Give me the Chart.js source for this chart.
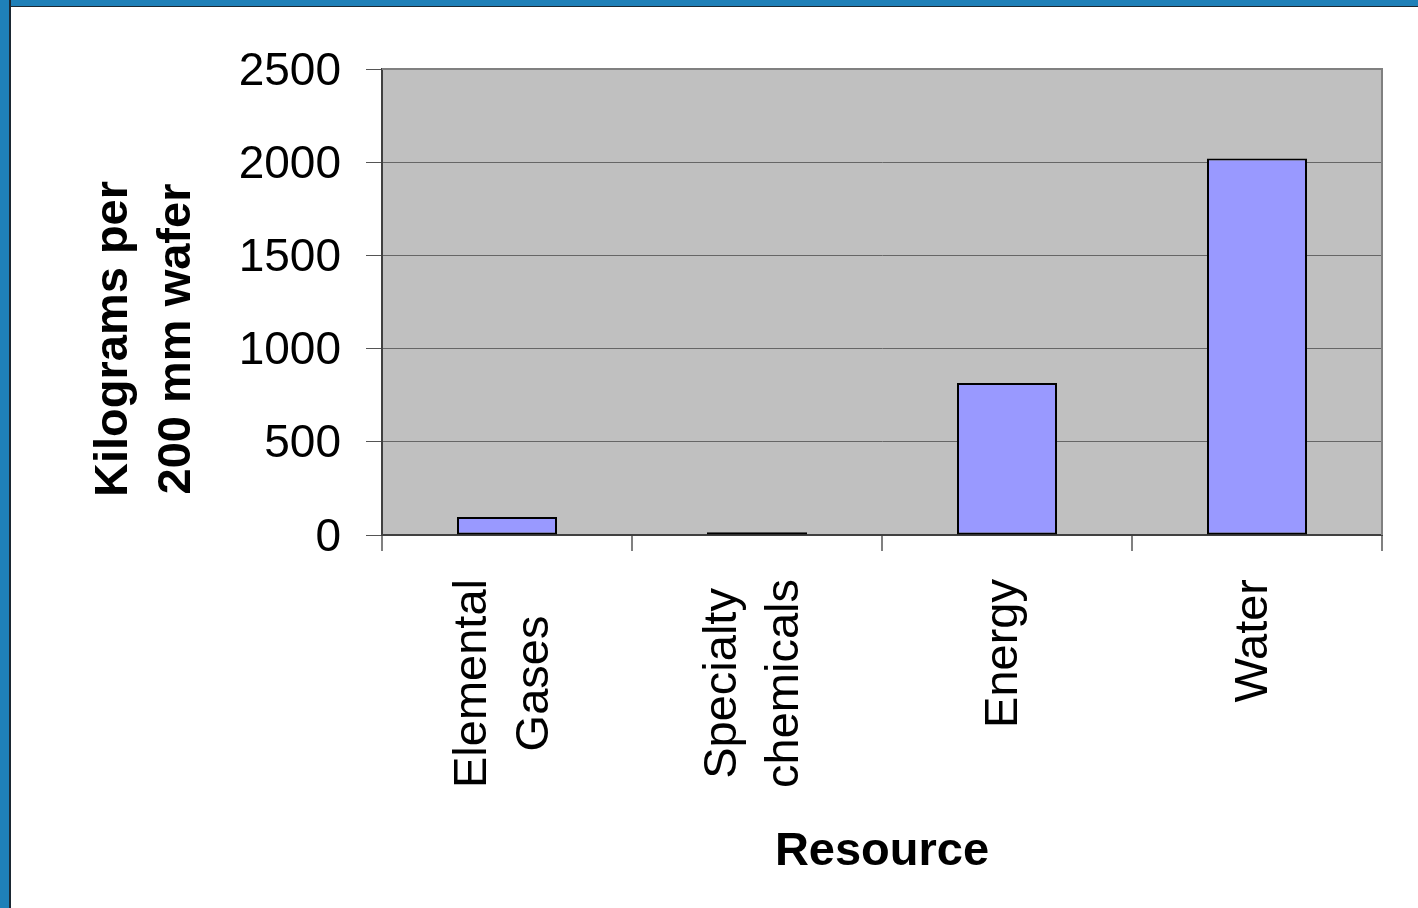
<!DOCTYPE html>
<html>
<head>
<meta charset="utf-8">
<script src="https://cdn.jsdelivr.net/npm/chart.js@4.4.1/dist/chart.umd.min.js"></script>
<style>
  html, body { margin: 0; padding: 0; background: #ffffff; }
  #wrap { position: relative; width: 1418px; height: 908px; overflow: hidden; }
  canvas { position: absolute; left: 0; top: 0; }
  #frameL { position: absolute; left: 0; top: 0; width: 9px; height: 908px; background: #1f80b8; border-right: 2px solid #1b2833; }
  #frameT { position: absolute; left: 0; top: 0; width: 1418px; height: 6px; background: #1f80b8; border-bottom: 1px solid #1b2833; }
</style>
</head>
<body>
<div id="wrap">
  <canvas id="chart" width="1418" height="908"></canvas>
  <div id="frameT"></div>
  <div id="frameL"></div>
</div>
<script>
// Resource use per 200 mm wafer
const categories = [['Elemental', 'Gases'], ['Specialty', 'chemicals'], ['Energy'], ['Water']];
const kgPerWafer = [97, 15, 815, 2020];
const yTicks = [0, 500, 1000, 1500, 2000, 2500];
const yTitle = ['Kilograms per', '200 mm wafer'];
const xTitle = 'Resource';

const FONT = '"Liberation Sans", Arial, sans-serif';

const plotDecor = {
  id: 'plotDecor',
  beforeDraw(chart) {
    const { ctx, chartArea: a } = chart;
    ctx.save();
    ctx.fillStyle = '#c0c0c0';
    ctx.fillRect(a.left, a.top, a.right - a.left, a.bottom - a.top);
    ctx.restore();
  },
  afterDatasetsDraw(chart) {
    const { ctx, chartArea: a } = chart;
    ctx.save();
    ctx.strokeStyle = '#808080';
    ctx.lineWidth = 2;
    ctx.beginPath();
    ctx.moveTo(a.left, a.top);
    ctx.lineTo(a.right, a.top);
    ctx.lineTo(a.right, a.bottom);
    ctx.stroke();
    ctx.restore();
  },
  afterDraw(chart) {
    const { ctx } = chart;
    const xs = chart.scales.x;
    ctx.save();
    ctx.fillStyle = '#000000';
    ctx.textAlign = 'center';
    ctx.textBaseline = 'middle';

    // rotated, multi-line category labels
    ctx.font = '47px ' + FONT;
    categories.forEach((lines, i) => {
      const x = xs.getPixelForValue(i) - 3;
      const maxW = Math.max(...lines.map(l => ctx.measureText(l).width));
      ctx.save();
      ctx.translate(x, xs.top + 44 + maxW / 2);
      ctx.rotate(-Math.PI / 2);
      lines.forEach((l, j) => {
        ctx.fillText(l, 0, (j - (lines.length - 1) / 2) * 62);
      });
      ctx.restore();
    });

    // vertical axis title
    ctx.font = 'bold 47px ' + FONT;
    ctx.save();
    ctx.translate(145.5, 339);
    ctx.rotate(-Math.PI / 2);
    yTitle.forEach((l, j) => {
      ctx.fillText(l, 0, (j - (yTitle.length - 1) / 2) * 63);
    });
    ctx.restore();
    ctx.restore();
  }
};

new Chart(document.getElementById('chart'), {
  type: 'bar',
  data: {
    labels: categories.map(c => c.join(' ')),
    datasets: [{
      data: kgPerWafer,
      backgroundColor: '#9999ff',
      borderColor: '#000000',
      borderWidth: 2,
      borderSkipped: false,
      categoryPercentage: 1.0,
      barPercentage: 0.4
    }]
  },
  options: {
    responsive: false,
    animation: false,
    devicePixelRatio: 1,
    layout: { padding: { top: 69, right: 36, bottom: 0, left: 0 } },
    plugins: { legend: { display: false }, tooltip: { enabled: false } },
    scales: {
      x: {
        offset: true,
        grid: { offset: true, drawOnChartArea: false, tickLength: 16, color: '#808080', lineWidth: 2 },
        border: { color: '#404040', width: 2 },
        ticks: { display: false },
        title: {
          display: true, text: xTitle, color: '#000000',
          font: { family: FONT, size: 47, weight: 'bold' },
          padding: { top: 0, bottom: 28 }
        },
        afterFit(scale) { scale.height = 373; }
      },
      y: {
        min: yTicks[0],
        max: yTicks[yTicks.length - 1],
        ticks: {
          stepSize: yTicks[1] - yTicks[0],
          color: '#000000',
          padding: 25,
          labelOffset: 3,
          font: { family: FONT, size: 46 },
          callback: (v) => String(v)
        },
        grid: { color: '#666666', lineWidth: 1, tickLength: 16, tickColor: '#555555' },
        border: { color: '#404040', width: 2 },
        afterFit(scale) { scale.width = 382; }
      }
    }
  },
  plugins: [plotDecor]
});
</script>
</body>
</html>
